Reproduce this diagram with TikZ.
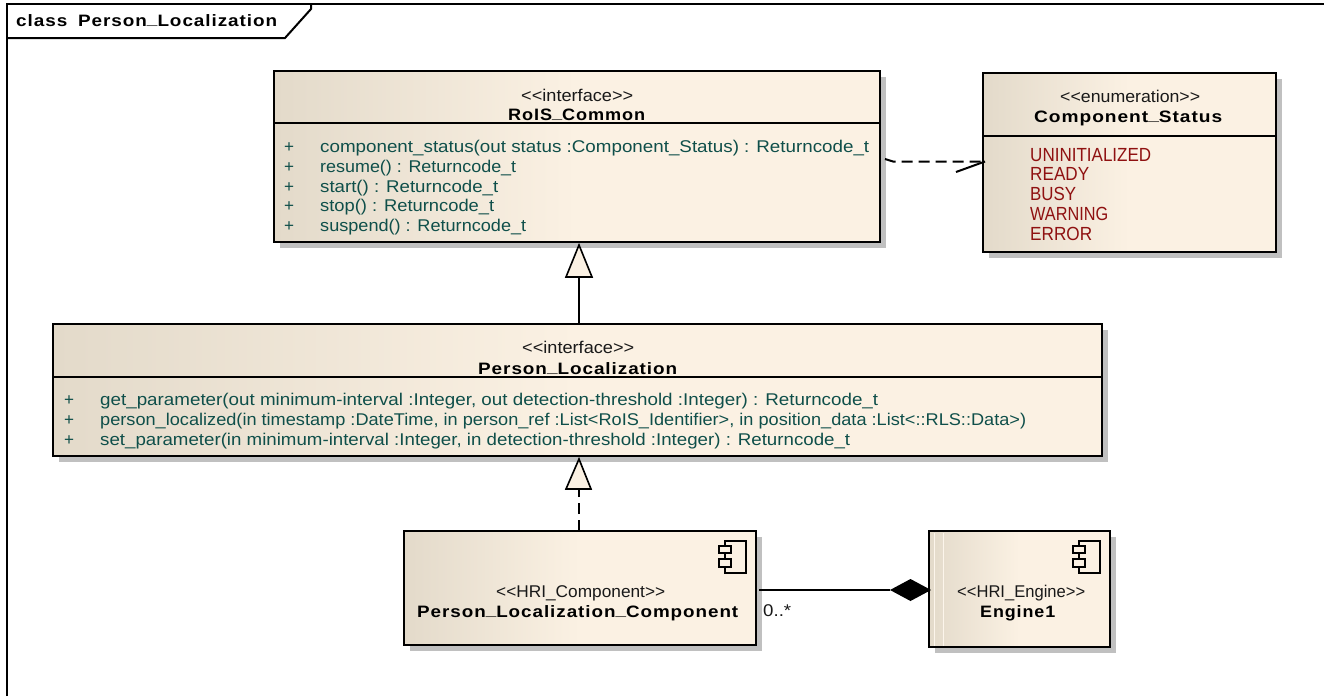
\documentclass[tikz,border=0pt]{standalone}
\usepackage{fontspec}
\usepackage{graphicx}
\usetikzlibrary{shadows}
\newfontfamily\reg{Liberation Sans}
\newfontfamily\bld[LetterSpace=5]{Liberation Sans Bold}
\definecolor{opc}{HTML}{0F4F4A}
\definecolor{attc}{HTML}{8F1111}
\definecolor{shc}{HTML}{C0C0C0}
\definecolor{fa}{HTML}{E3DACA}
\definecolor{fb}{HTML}{FBF1E3}
\pgfdeclarehorizontalshading{umlgrad}{100bp}{color(0bp)=(fa); color(25bp)=(fa); color(50bp)=(fb); color(100bp)=(fb)}
\tikzset{
  umlbox/.style={draw=black,line width=2pt,inner sep=0,outer sep=0,anchor=north west,shading=umlgrad,
    drop shadow={shadow xshift=6pt,shadow yshift=-6pt,fill=shc,opacity=1}},
  sep/.style={line width=2pt},
  txt/.style={anchor=base west,inner sep=0,font=\fontsize{17}{17}\selectfont\reg},
  op/.style={txt,text=opc},
  att/.style={txt,font=\fontsize{19}{19}\selectfont\reg,text=attc},
  ster/.style={txt,text=black!90},
  ttl/.style={txt,font=\fontsize{16.5}{17}\selectfont\bld,text=black},
  hollow/.style={draw=black,line width=1.6pt,fill=fb,line join=miter},
  conn/.style={line width=2pt},
  dconn/.style={line width=2pt,dash pattern=on 11pt off 6pt},
  icon/.style={draw=black,line width=1.5pt,fill=fb,inner sep=0}
}
\newcommand{\ft}[2]{\resizebox{#1pt}{\height}{#2}}
\newcommand{\lbl}[6]{\node[#1] (#2) at (#3,#4) {\ft{#5}{#6}};}
\newcommand{\ul}{\raisebox{2pt}{\_}}
\begin{document}
\begin{tikzpicture}[x=1pt,y=-1pt]
\useasboundingbox (0,0) rectangle (1324,696);
\fill[white] (0,0) rectangle (1324,696);
% frame
\coordinate (ftl) at (7,4);
\coordinate (ftr) at (1324,4);
\coordinate (fbl) at (7,696);
\draw[line width=2pt] (fbl) -- (ftl) -- (ftr);
\coordinate (ta) at (7,38);
\coordinate (tb) at (285,38);
\coordinate (tc) at (311,9);
\coordinate (td) at (311,4);
\draw[line width=2pt] (ta) -- (tb) -- (tc) -- (td);
\lbl{ttl}{frametitle}{16}{27}{261}{class\hspace{4pt} Person\ul Localization}

% boxes
\node[umlbox,minimum width=606pt,minimum height=171pt] (rois) at (274,71) {};
\node[umlbox,minimum width=293pt,minimum height=179pt] (status) at (983,73) {};
\node[umlbox,minimum width=1049pt,minimum height=132pt] (person) at (53,324) {};
\node[umlbox,minimum width=352pt,minimum height=114pt] (comp) at (404,531) {};
\node[umlbox,minimum width=181pt,minimum height=116pt] (engine) at (929,531) {};
% compartment lines
\coordinate (r1) at (274,123); \coordinate (r2) at (880,123);
\draw[sep] (r1) -- (r2);
\coordinate (s1) at (983,136); \coordinate (s2) at (1276,136);
\draw[sep] (s1) -- (s2);
\coordinate (p1) at (53,377); \coordinate (p2) at (1102,377);
\draw[sep] (p1) -- (p2);
% engine stripe
\coordinate (e1) at (934,533); \coordinate (e2) at (943,646);
\draw[fb!70!white,line width=1pt] (e1) -- (e1|-e2) (e2|-e1) -- (e2);

% RoIS texts
\lbl{ster}{t1}{521}{101}{112}{<<interface>>}
\lbl{ttl}{t2}{508}{120}{137}{RoIS\ul Common}
\lbl{op}{a1}{284}{152}{10}{+}
\lbl{op}{a2}{284}{172}{10}{+}
\lbl{op}{a3}{284}{192}{10}{+}
\lbl{op}{a4}{284}{211}{10}{+}
\lbl{op}{a5}{284}{231}{10}{+}
\lbl{op}{b1}{320}{152}{549}{component\_status(out status :Component\_Status) : Returncode\_t}
\lbl{op}{b2}{320}{172}{196}{resume() : Returncode\_t}
\lbl{op}{b3}{320}{192}{178}{start() : Returncode\_t}
\lbl{op}{b4}{320}{211}{174}{stop() : Returncode\_t}
\lbl{op}{b5}{320}{231}{206}{suspend() : Returncode\_t}

% status texts
\lbl{ster}{t3}{1060}{102.5}{140}{<<enumeration>>}
\lbl{ttl}{t4}{1034}{122.5}{188}{Component\ul Status}
\lbl{att}{c1}{1030}{161}{121}{UNINITIALIZED}
\lbl{att}{c2}{1030}{180.5}{59}{READY}
\lbl{att}{c3}{1030}{200}{46}{BUSY}
\lbl{att}{c4}{1030}{220}{78}{WARNING}
\lbl{att}{c5}{1030}{240}{62}{ERROR}

% person texts
\lbl{ster}{t5}{522}{353.5}{112}{<<interface>>}
\lbl{ttl}{t6}{478}{374}{199}{Person\ul Localization}
\lbl{op}{d1}{64}{405}{10}{+}
\lbl{op}{d2}{64}{425}{10}{+}
\lbl{op}{d3}{64}{445}{10}{+}
\lbl{op}{e1t}{100}{405}{778}{get\_parameter(out minimum-interval :Integer, out detection-threshold :Integer) : Returncode\_t}
\lbl{op}{e2t}{100}{425}{926}{person\_localized(in timestamp :DateTime, in person\_ref :List<RoIS\_Identifier>, in position\_data :List<::RLS::Data>)}
\lbl{op}{e3t}{100}{445}{750}{set\_parameter(in minimum-interval :Integer, in detection-threshold :Integer) : Returncode\_t}

% component
\lbl{ster}{t7}{496}{597}{169}{<<HRI\_Component>>}
\lbl{ttl}{t8}{417}{617}{321}{Person\ul Localization\ul Component}
\lbl{ster}{t9}{957}{597}{128}{<<HRI\_Engine>>}
\lbl{ttl}{t10}{980}{617}{75}{Engine1}

% component icons
\coordinate (ci1) at (725,541); \coordinate (ci2) at (746,573);
\draw[icon] (ci1) rectangle (ci2);
\coordinate (ci3) at (719,546); \coordinate (ci4) at (731,553);
\draw[icon] (ci3) rectangle (ci4);
\coordinate (ci5) at (719,559); \coordinate (ci6) at (731,567);
\draw[icon] (ci5) rectangle (ci6);
\coordinate (ei1) at (1079,541); \coordinate (ei2) at (1100,573);
\draw[icon] (ei1) rectangle (ei2);
\coordinate (ei3) at (1073,546); \coordinate (ei4) at (1085,553);
\draw[icon] (ei3) rectangle (ei4);
\coordinate (ei5) at (1073,559); \coordinate (ei6) at (1085,567);
\draw[icon] (ei5) rectangle (ei6);

% generalization RoIS <- Person
\coordinate (g1) at (579,324);
\coordinate (g2) at (579,277);
\coordinate (g3) at (579,245);
\coordinate (g4) at (566,277);
\coordinate (g5) at (592,277);
\draw[conn] (g1) -- (g2);
\draw[hollow] (g3) -- (g5) -- (g4) -- cycle;
% realization Person <- Component
\coordinate (h1) at (579,531);
\coordinate (h2) at (579,489);
\coordinate (h3) at (579,459);
\coordinate (h4) at (566,489);
\coordinate (h5) at (591,489);
\draw[dconn] (h1) -- (h2);
\draw[hollow] (h3) -- (h5) -- (h4) -- cycle;
% dependency RoIS -> status
\coordinate (k1) at (885,159);
\coordinate (k2) at (893,161.5);
\coordinate (k3) at (985,161.5);
\coordinate (k4) at (956,172);
\draw[dconn] (k1) -- (k2) -- (k3);
\draw[conn] (k4) -- (k3);
% composition
\coordinate (m1) at (759,590);
\coordinate (m2) at (890,590);
\coordinate (m3) at (910.5,579);
\coordinate (m4) at (931,590);
\coordinate (m5) at (910.5,601);
\draw[conn] (m1) -- (m2);
\fill[black] (m2) -- (m3) -- (m4) -- (m5) -- cycle;
\lbl{ster}{mult}{763}{616}{28}{0..*}
\end{tikzpicture}
\end{document}
